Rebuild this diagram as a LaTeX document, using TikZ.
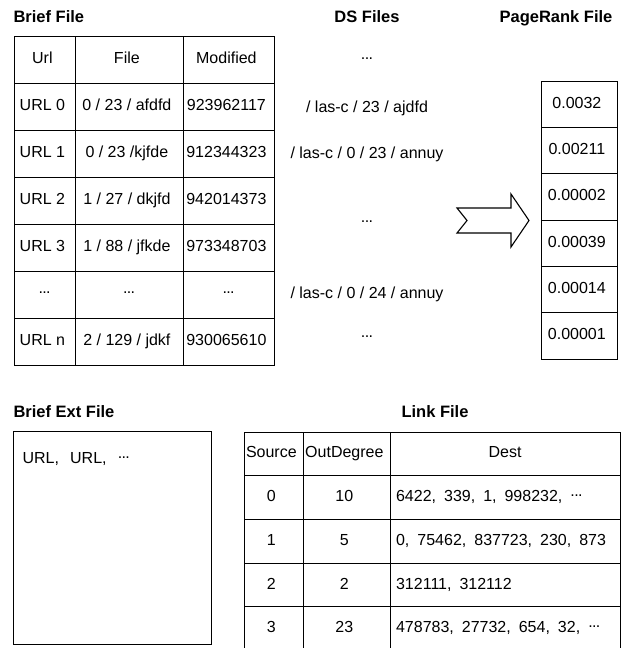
\documentclass[tikz,border=0pt]{standalone}
\usepackage{fontspec}
\setmainfont{Liberation Sans}
\usetikzlibrary{matrix}
\newcommand\dts{\raisebox{0.3em}{.\kern-0.04em.\kern-0.04em.}}
\newcommand\gp{\hspace{0.5em}}
\begin{document}
\begin{tikzpicture}[x=1pt,y=-1pt,line width=1.1pt,
  txt/.style={font=\fontsize{16}{19}\selectfont,inner sep=0pt},
  ttl/.style={font=\fontsize{16.5}{19}\selectfont\bfseries,inner sep=0pt},
  tbl/.style={matrix of nodes,row sep=-\pgflinewidth,column sep=-\pgflinewidth,
    inner sep=0pt,anchor=north west,
    nodes={draw,font=\fontsize{16}{19}\selectfont,text height=11.5pt,text depth=3.5pt,
      inner sep=0pt,anchor=center,align=center}},
  bigarrow/.style={draw,line join=miter,fill=white}]
\useasboundingbox (0,0) rectangle (630,648);
% titles
\node[ttl,anchor=base west] (t1) at (13,22) {Brief File};
\node[ttl,anchor=base] (t2) at (367,22) {DS Files};
\node[ttl,anchor=base] (t3) at (556,22) {PageRank File};
\node[ttl,anchor=base west] (t4) at (13,417) {Brief Ext File};
\node[ttl,anchor=base] (t5) at (435,417) {Link File};
% Brief File table
\matrix (bf) [tbl,nodes={minimum height=47},
  column 1/.style={nodes={minimum width=61}},
  column 2/.style={nodes={minimum width=108}},
  column 3/.style={nodes={minimum width=91}}] at (13,35) {
Url & File & Modified \\
URL 0 & 0 / 23 / afdfd & 923962117 \\
URL 1 & 0 / 23 /kjfde & 912344323 \\
URL 2 & 1 / 27 / dkjfd & 942014373 \\
URL 3 & 1 / 88 / jfkde & 973348703 \\
\dts & \dts & \dts \\
URL n & 2 / 129 / jdkf & 930065610 \\
};
% DS Files
\node[txt,anchor=base] (ds1) at (367,64.5) {\dts};
\node[txt,anchor=base] (ds2) at (367,112.7) {/ las-c / 23 / ajdfd};
\node[txt,anchor=base] (ds3) at (367,158.7) {/ las-c / 0 / 23 / annuy};
\node[txt,anchor=base] (ds4) at (367,227.5) {\dts};
\node[txt,anchor=base] (ds5) at (367,298.7) {/ las-c / 0 / 24 / annuy};
\node[txt,anchor=base] (ds6) at (367,342.5) {\dts};
% arrow
\draw[bigarrow] (457,208) -- (511,208) -- (511,194) -- (529,220.5) -- (511,247)
  -- (511,233) -- (457,233) -- (467,220.5) -- cycle;
% PageRank table
\matrix (pr) [tbl,nodes={minimum height=46.33,minimum width=76}] at (540,80) {
0.0032 \\
0.00211 \\
0.00002 \\
0.00039 \\
0.00014 \\
0.00001 \\
};
% Brief Ext File
\node[draw,inner sep=0pt,minimum width=198,minimum height=213,anchor=north west] (ext) at (13,431) {};
\node[txt,anchor=base west] (extt) at (22,463) {URL,\hspace{0.7em}URL,\hspace{0.7em}\dts};
% Link File table
\matrix (lf) [tbl,nodes={minimum height=43.7},
  column 1/.style={nodes={minimum width=59}},
  column 2/.style={nodes={minimum width=87}},
  column 3/.style={nodes={text width=218,inner xsep=6pt,align=left}}] at (243,431) {
Source & OutDegree & |[align=center]| Dest \\
0 & 10 & 6422,\gp 339,\gp 1,\gp 998232,\gp\dts \\
1 & 5 & 0,\gp 75462,\gp 837723,\gp 230,\gp 873 \\
2 & 2 & 312111,\gp 312112 \\
3 & 23 & 478783,\gp 27732,\gp 654,\gp 32,\gp\dts \\
};
\end{tikzpicture}
\end{document}
